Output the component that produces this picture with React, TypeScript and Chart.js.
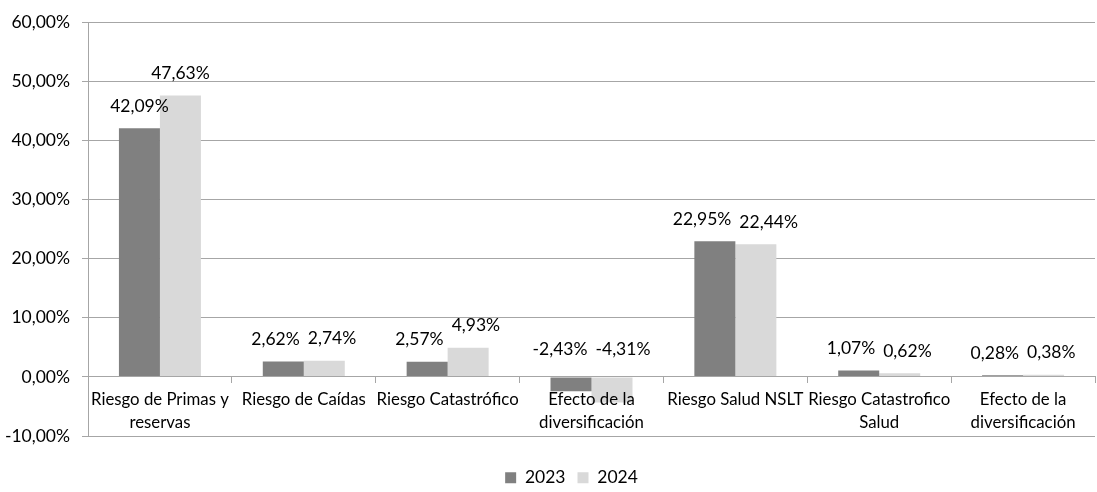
import React, { useEffect, useRef } from 'react';
import { Chart, registerables } from 'chart.js';

Chart.register(...registerables);

const categories: string[][] = [
  ['Riesgo de Primas y', 'reservas'],
  ['Riesgo de Caídas'],
  ['Riesgo Catastrófico'],
  ['Efecto de la', 'diversificación'],
  ['Riesgo Salud NSLT'],
  ['Riesgo Catastrofico', 'Salud'],
  ['Efecto de la', 'diversificación'],
];
const seriesLabels = ['2023', '2024'];
const values2023 = [42.09, 2.62, 2.57, -2.43, 22.95, 1.07, 0.28];
const values2024 = [47.63, 2.74, 4.93, -4.31, 22.44, 0.62, 0.38];
const yMin = -10;
const yMax = 60;
const yStep = 10;

const FONT = 'Lato, "Noto Sans", sans-serif';
const FS = 17.5;
const FS_X = 16.8;
const TEXT = '#000000';
const GRID = '#a6a6a6';

const fmt = (v: number) => v.toFixed(2).replace('.', ',') + '%';

const dataLabels = {
  id: 'dataLabels',
  afterDatasetsDraw(chart: any) {
    const { ctx } = chart;
    ctx.save();
    ctx.font = `${FS}px ${FONT}`;
    ctx.fillStyle = TEXT;
    ctx.textAlign = 'center';
    ctx.textBaseline = 'middle';
    const m0 = chart.getDatasetMeta(0);
    const m1 = chart.getDatasetMeta(1);
    const d0 = chart.data.datasets[0].data as number[];
    const d1 = chart.data.datasets[1].data as number[];
    m0.data.forEach((b0: any, i: number) => {
      const b1 = m1.data[i];
      const v0 = d0[i];
      const v1 = d1[i];
      const t0 = fmt(v0);
      const t1 = fmt(v1);
      const y0 = Math.min(b0.y, b0.base) - (v0 < 0 ? 28 : 22);
      const y1 = Math.min(b1.y, b1.base) - (v1 < 0 ? 28 : 22);
      let x0 = b0.x;
      let x1 = b1.x;
      if (Math.abs(y0 - y1) < FS) {
        const need = (ctx.measureText(t0).width + ctx.measureText(t1).width) / 2 + 8;
        const extra = need - (x1 - x0);
        if (extra > 0) {
          x0 -= extra / 2;
          x1 += extra / 2;
        }
      }
      ctx.fillText(t0, x0, y0);
      ctx.fillText(t1, x1, y1);
    });
    ctx.restore();
  },
};

const legendShift = {
  id: 'legendShift',
  afterLayout(chart: any) {
    const lg = chart.legend;
    if (lg) {
      lg.left += 24;
      lg.right += 24;
    }
  },
};

export default function App() {
  const ref = useRef<HTMLCanvasElement | null>(null);
  useEffect(() => {
    if (!ref.current) return;
    const chart = new Chart(ref.current, {
      type: 'bar',
      data: {
        labels: categories,
        datasets: [
          {
            label: seriesLabels[0],
            data: values2023,
            backgroundColor: '#808080',
            categoryPercentage: 0.57,
            barPercentage: 1.0,
          },
          {
            label: seriesLabels[1],
            data: values2024,
            backgroundColor: '#d9d9d9',
            categoryPercentage: 0.57,
            barPercentage: 1.0,
          },
        ],
      },
      options: {
        responsive: false,
        animation: false,
        layout: { padding: { left: 0, right: 2, top: 16, bottom: 0 } },
        plugins: {
          tooltip: { enabled: false },
          legend: {
            position: 'bottom',
            maxHeight: 56,
            title: { display: true, text: '', padding: { top: 9, bottom: 0 }, font: { size: 10 } },
            labels: {
              boxWidth: 11,
              boxHeight: 11,
              padding: 12,
              color: TEXT,
              font: { family: FONT, size: FS },
            },
          },
        },
        scales: {
          x: {
            position: { y: 0 } as any,
            grid: {
              offset: true,
              drawOnChartArea: false,
              drawTicks: true,
              tickLength: 6,
              color: GRID,
              z: 1,
            },
            border: { display: true, color: GRID, width: 1, z: 1 },
            ticks: {
              z: 1,
              autoSkip: false,
              maxRotation: 0,
              padding: 5,
              color: TEXT,
              font: { family: FONT, size: FS_X, lineHeight: 1.36 },
            },
          },
          y: {
            min: yMin,
            max: yMax,
            afterFit: (s: any) => { s.width = 88; },
            grid: { color: GRID, tickLength: 6 },
            border: { display: true, color: GRID },
            ticks: {
              stepSize: yStep,
              padding: 12,
              color: TEXT,
              font: { family: FONT, size: FS },
              callback: (v: any) => fmt(Number(v)),
            },
          },
        },
      },
      plugins: [dataLabels, legendShift],
    });
    return () => chart.destroy();
  }, []);
  return (
    <div style={{ position: 'absolute', left: 0, top: 0, width: 1097, height: 492, background: '#fff' }}>
      <canvas ref={ref} width={1097} height={492} />
    </div>
  );
}
